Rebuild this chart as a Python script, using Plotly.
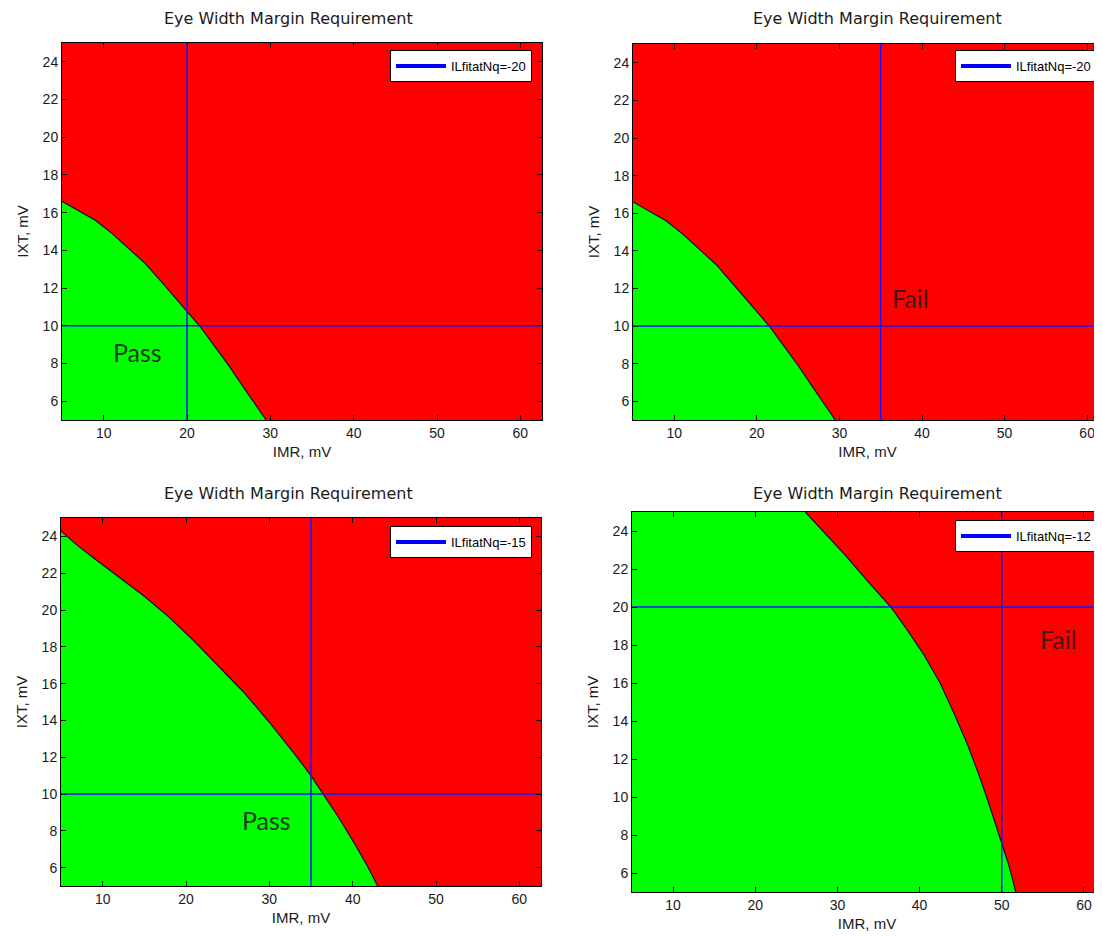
import plotly.graph_objects as go

# ---------------- data ----------------
panel_names = ["ILfitatNq=-20", "ILfitatNq=-20", "ILfitatNq=-15", "ILfitatNq=-12"]
chart_title = "Eye Width Margin Requirement"
x_title = "IMR, mV"
y_title = "IXT, mV"

x_ticks = [10, 20, 30, 40, 50, 60]
y_ticks = [6, 8, 10, 12, 14, 16, 18, 20, 22, 24]
y_range = [5, 25]

# pass/fail boundary (IMR, IXT) per panel
imr_a = [5.0, 7.0, 9.0, 11.0, 13.0, 15.0, 17.0, 19.0, 20.3, 21.5, 23.0, 25.0, 27.0, 28.5, 29.5]
ixt_a = [16.6, 16.1, 15.6, 14.9, 14.1, 13.3, 12.3, 11.3, 10.6, 10.0, 9.1, 7.9, 6.6, 5.6, 5.0]

imr_b = imr_a
ixt_b = ixt_a

imr_c = [5.0, 7.0, 9.0, 12.0, 15.0, 18.0, 21.0, 24.0, 27.0, 30.0, 33.0, 35.0, 36.5, 38.5, 40.5, 42.0, 43.0]
ixt_c = [24.3, 23.5, 22.8, 21.8, 20.75, 19.6, 18.3, 16.9, 15.5, 13.9, 12.2, 11.0, 10.0, 8.6, 7.1, 5.9, 5.0]

imr_d = [26.1, 28.5, 31.0, 34.0, 36.5, 38.5, 40.5, 42.5, 44.2, 45.8, 47.2, 48.4, 49.4, 50.1, 50.8, 51.3, 51.7]
ixt_d = [25.0, 23.9, 22.7, 21.2, 20.0, 18.8, 17.5, 16.0, 14.4, 12.8, 11.2, 9.7, 8.4, 7.5, 6.5, 5.7, 5.0]

boundaries = [(imr_a, ixt_a), (imr_b, ixt_b), (imr_c, ixt_c), (imr_d, ixt_d)]

# requirement cross-hair (IMR, IXT)
req_imr = [20, 35, 35, 50]
req_ixt = [10, 10, 10, 20]

# Pass / Fail labels
label_text = ["Pass", "Fail", "Pass", "Fail"]
label_imr = [14.1, 38.6, 29.6, 56.9]
label_ixt = [8.6, 11.5, 8.6, 18.3]

# ---------------- layout geometry (page pixels) ----------------
PAGE_W, PAGE_H = 1102, 936
OFF = 8                      # default body margin of the html page
W, H = PAGE_W - OFF, PAGE_H - OFF
# (left, right, top, bottom) in page px, x max
boxes = [(62, 542, 43, 420, 62.6),
         (633, 1102, 44, 420, 61.8),
         (61, 541, 518, 886, 62.6),
         (632, 1102, 512, 892, 62.2)]
legend_pos = [(390, 50), (955, 50), (390, 526), (955, 520)]
title_x = [288, 877, 288, 877]
title_y = [18, 18, 493, 493]


def px_x(v):
    return (v - OFF) / W


def px_y(v):
    return (H - (v - OFF)) / H


RED = "#ff0000"
GREEN = "#00ff00"
BLUE = "#1414ff"
TICKFONT = dict(family="Liberation Sans, Arial", size=14, color="#1a1a1a")

fig = go.Figure()
layout = dict(width=W, height=H, margin=dict(l=0, r=0, t=0, b=0, autoexpand=False),
              paper_bgcolor="white", plot_bgcolor=RED, showlegend=True,
              annotations=[])

for i in range(4):
    n = "" if i == 0 else str(i + 1)
    xa, ya = "x" + n, "y" + n
    left, right, top, bottom, xmax = boxes[i]
    x_range = [5, xmax]
    bx, by = boundaries[i]
    # green "pass" polygon bounded by the axes and the boundary curve
    px = [x_range[0], x_range[0]] + list(bx) + [x_range[0]]
    py = [y_range[0], by[0]] + list(by) + [y_range[0]]
    if by[0] >= y_range[1]:
        py[1] = y_range[1]
    fig.add_trace(go.Scatter(x=px, y=py, mode="lines", fill="toself",
                             fillcolor=GREEN, line=dict(color=GREEN, width=0),
                             showlegend=False, hoverinfo="skip", xaxis=xa, yaxis=ya))
    fig.add_trace(go.Scatter(x=bx, y=by, mode="lines", line=dict(color="#101010", width=1.2),
                             showlegend=False, hoverinfo="skip", xaxis=xa, yaxis=ya))
    # cross hair
    fig.add_trace(go.Scatter(x=[req_imr[i], req_imr[i], None, x_range[0], x_range[1]],
                             y=[y_range[0], y_range[1], None, req_ixt[i], req_ixt[i]],
                             mode="lines", line=dict(color=BLUE, width=1.5),
                             showlegend=False, xaxis=xa, yaxis=ya))
    # legend entry
    lg = "legend" + n
    fig.add_trace(go.Scatter(x=[None], y=[None], mode="lines", name=panel_names[i],
                             line=dict(color="#0000ff", width=4), legend=lg,
                             xaxis=xa, yaxis=ya))
    lx, ly = legend_pos[i]
    layout[lg] = dict(x=px_x(lx), y=px_y(ly), xanchor="left", yanchor="top",
                      bgcolor="white", bordercolor="black", borderwidth=1,
                      font=dict(family="Liberation Sans, Arial", size=13, color="black"),
                      itemwidth=50, tracegroupgap=0)
    right_side = i in (1, 3)
    layout["xaxis" + n] = dict(domain=[px_x(left), min(1.0, px_x(right))], range=x_range, anchor=ya,
                               tickvals=x_ticks, ticks="inside", ticklen=5, tickcolor="black",
                               showline=True, linecolor="black", linewidth=1, mirror="ticks",
                               showgrid=False, zeroline=False, tickfont=TICKFONT,
                               title=dict(text=x_title, standoff=6,
                                          font=dict(family="Liberation Sans, Arial", size=15, color="#1a1a1a")))
    layout["yaxis" + n] = dict(domain=[px_y(bottom), px_y(top)], range=y_range, anchor=xa,
                               tickvals=y_ticks, ticks="inside", ticklen=5, tickcolor="black",
                               showline=True, linecolor="black", linewidth=1,
                               mirror=False if right_side else "ticks",
                               showgrid=False, zeroline=False, tickfont=TICKFONT,
                               title=dict(text=y_title, standoff=10,
                                          font=dict(family="Liberation Sans, Arial", size=15, color="#1a1a1a")))
    layout["annotations"].append(dict(text=chart_title, x=px_x(title_x[i]), y=px_y(title_y[i]),
                                      xref="paper", yref="paper", showarrow=False,
                                      xanchor="center", yanchor="middle",
                                      font=dict(family="DejaVu Sans", size=16, color="#1a1a1a")))
    layout["annotations"].append(dict(text=label_text[i], x=label_imr[i], y=label_ixt[i],
                                      xref=xa, yref=ya, showarrow=False,
                                      xanchor="center", yanchor="middle",
                                      font=dict(family="Lato, Open Sans", size=25,
                                                color="#1e3d1e" if label_text[i] == "Pass" else "#4a1212")))

fig.update_layout(**layout)
fig.write_html("out.html")
